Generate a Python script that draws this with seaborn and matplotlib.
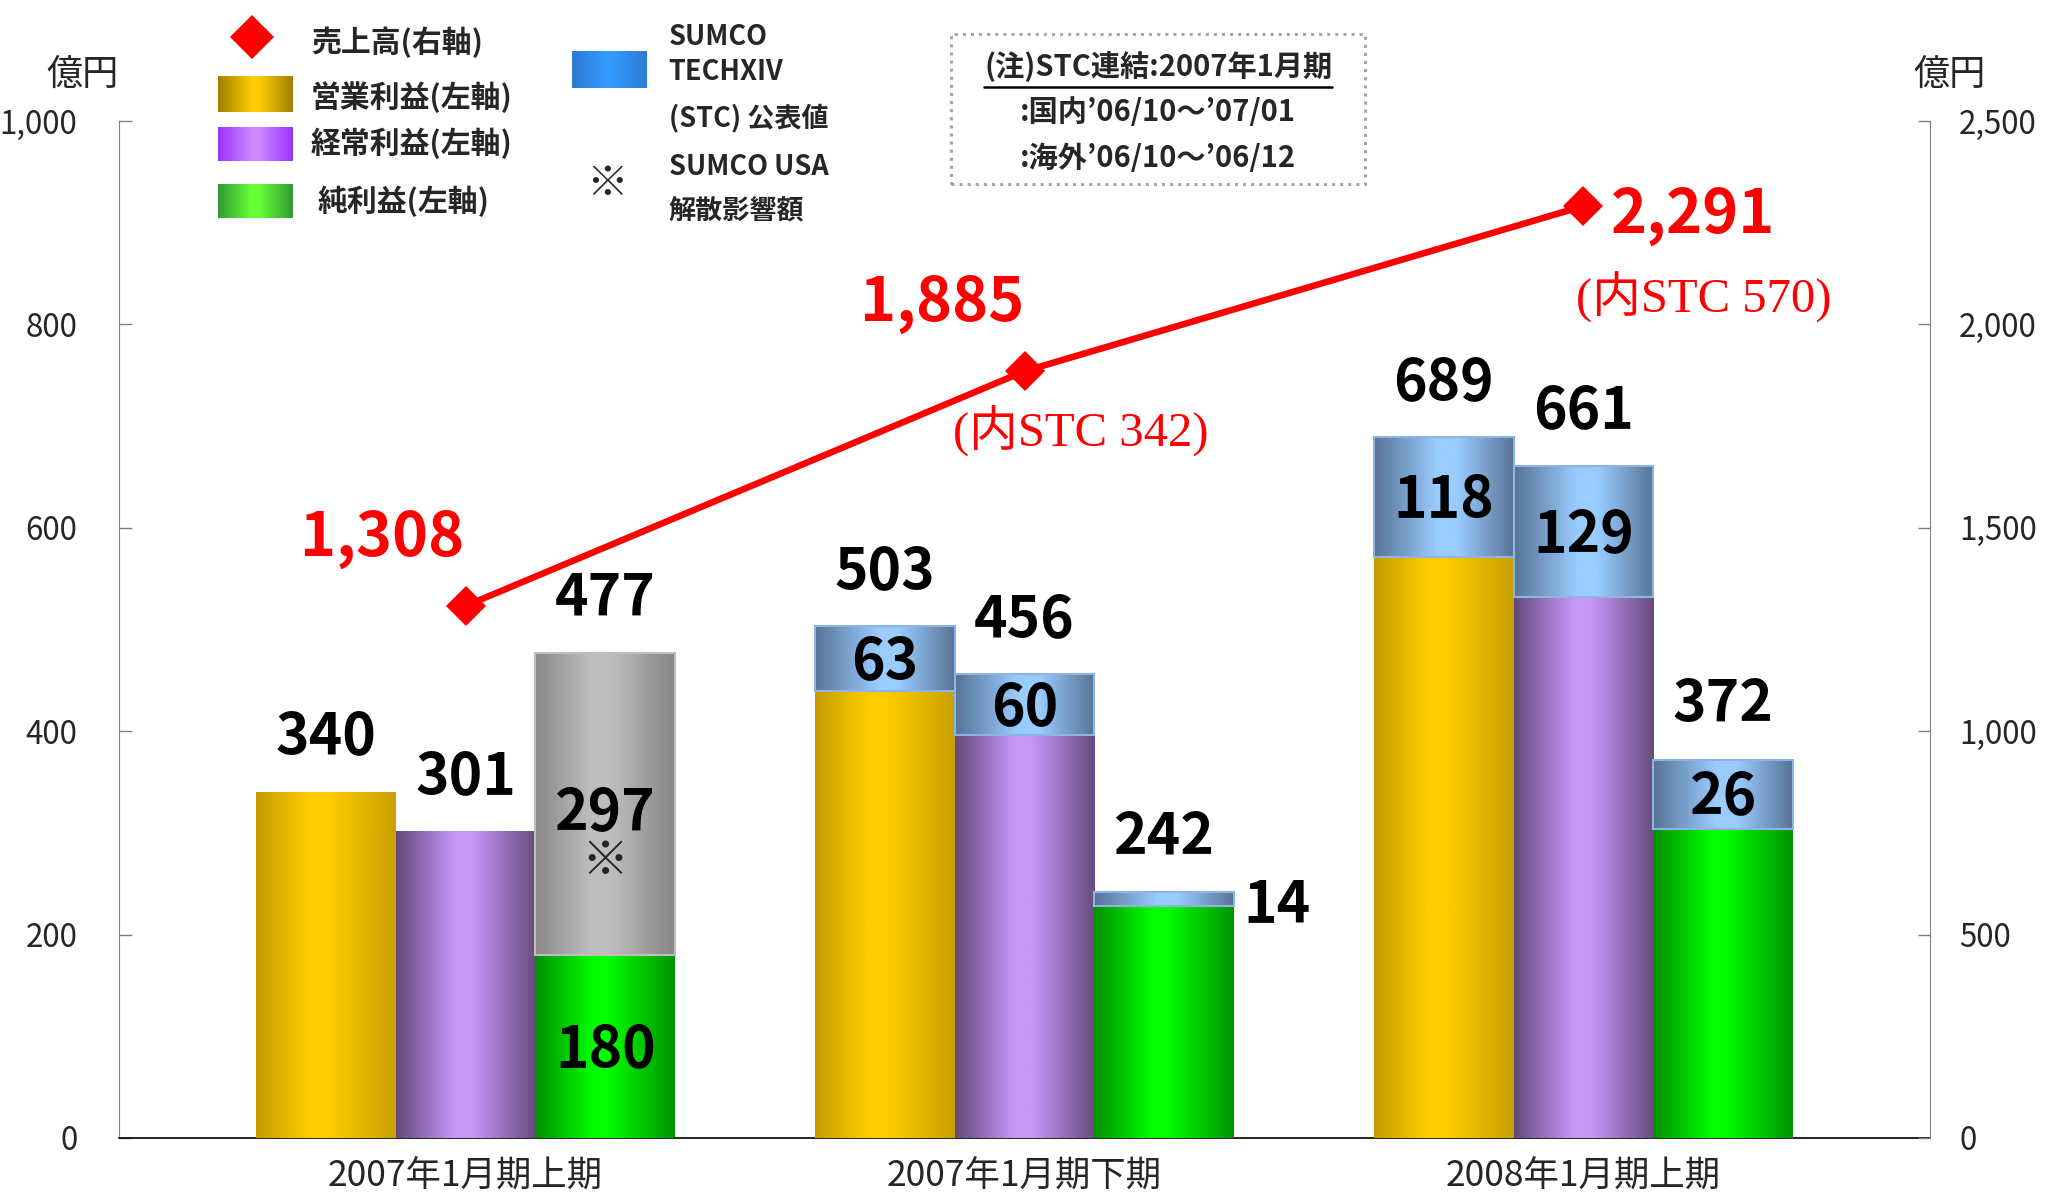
import numpy as np
import pandas as pd
import matplotlib
matplotlib.use("Agg")
import matplotlib.pyplot as plt
from matplotlib.colors import to_rgb
from matplotlib.patches import Rectangle
from matplotlib.ticker import FuncFormatter
import seaborn as sns

periods = ["2007年1月期上期", "2007年1月期下期", "2008年1月期上期"]
measures = ["営業利益", "経常利益", "純利益"]

# 左軸 (億円): 下段の値 + 上に積む値 (STC公表値 / SUMCO USA解散影響額)
op_base = [340, 440, 571]
op_top = [0, 63, 118]
ord_base = [301, 396, 532]
ord_top = [0, 60, 129]
# 元資料では2008年上期の純利益STC分(26)が実際より厚く描かれている
net_base = [180, 228, 304]
net_top = [297, 14, 68]
net_top_label = [297, 14, 26]

# 右軸 (億円): 売上高
sales = [1308, 1885, 2291]
sales_stc = [None, 342, 570]

left_ticks = [0, 200, 400, 600, 800, 1000]
right_ticks = [0, 500, 1000, 1500, 2000, 2500]

RED = "#FF0000"

# グラデーション (左端, 中央, 中央, 右端)
GRAD = {
    "営業利益": (["#C49C00", "#FFCC00", "#FFCC00", "#C8A000"], [0, 0.38, 0.52, 1]),
    "経常利益": (["#614A7B", "#C896F8", "#C896F8", "#644C7E"], [0, 0.42, 0.55, 1]),
    "純利益": (["#009000", "#00FF00", "#00FF00", "#009400"], [0, 0.42, 0.52, 1]),
    "stc": (["#587396", "#99CCFF", "#99CCFF", "#587396"], [0, 0.45, 0.6, 1]),
    "usa": (["#888888", "#BEBEBE", "#BEBEBE", "#858585"], [0, 0.4, 0.55, 1]),
}
LEGEND_GRAD = {
    "営業利益": (["#A08000", "#FFCC00", "#FFCC00", "#A08000"], [0, 0.45, 0.55, 1]),
    "経常利益": (["#9933FF", "#CC88FF", "#CC88FF", "#9933FF"], [0, 0.45, 0.55, 1]),
    "純利益": (["#339933", "#66FF33", "#66FF33", "#339933"], [0, 0.45, 0.55, 1]),
    "stc": (["#2F7BD0", "#3399FF", "#3399FF", "#2F7BD0"], [0, 0.45, 0.55, 1]),
}


def gradient(ax, x0, x1, y0, y1, spec, zorder):
    colors, stops = spec
    pos = np.linspace(0, 1, 256)
    rgb = np.array([to_rgb(c) for c in colors])
    img = np.stack([np.interp(pos, stops, rgb[:, k]) for k in range(3)], axis=-1)
    ax.imshow(img[np.newaxis, :, :], extent=[x0, x1, y0, y1], aspect="auto",
              interpolation="bilinear", zorder=zorder)


rows = []
for m, base, top in zip(measures, [op_base, ord_base, net_base], [op_top, ord_top, net_top]):
    for p, b, t in zip(periods, base, top):
        rows.append({"period": p, "measure": m, "base": b, "top": t, "total": b + t})
df = pd.DataFrame(rows)

sns.set_style("white")
plt.rcParams["font.family"] = ["Noto Sans CJK JP", "DejaVu Sans"]

fig = plt.figure(figsize=(20.48, 11.96), dpi=100)
ax = fig.add_axes([0.0581, 0.0485, 0.8843, 0.8503])

sns.barplot(data=df, x="period", y="total", hue="measure", order=periods,
            hue_order=measures, width=0.75, errorbar=None, legend=False,
            palette={m: "#99CCFF" for m in measures}, saturation=1, ax=ax)
n_top = len(ax.patches)
sns.barplot(data=df, x="period", y="base", hue="measure", order=periods,
            hue_order=measures, width=0.75, errorbar=None, legend=False,
            palette={"営業利益": "#FFCC00", "経常利益": "#C896F8", "純利益": "#00FF00"},
            saturation=1, ax=ax)

tops = [op_top, ord_top, net_top]
top_labels = [op_top, ord_top, net_top_label]
bases = [op_base, ord_base, net_base]
geom = {}
for i, patch in enumerate(ax.patches):
    x0, w, h = patch.get_x(), patch.get_width(), patch.get_height()
    cx = x0 + w / 2
    c = int(round(cx))
    hi = int(round((cx - c) / w)) + 1
    geom[(hi, c)] = (x0, w)
    if i < n_top:
        top = tops[hi][c]
        if top == 0:
            continue
        key = "usa" if (c == 0 and hi == 2) else "stc"
        gradient(ax, x0, x0 + w, 0, h, GRAD[key], zorder=2)
        ec = "#BFBFBF" if key == "usa" else "#8DB4E2"
        ax.add_patch(Rectangle((x0, h - top), w, top, fill=False, ec=ec, lw=1.5, zorder=3.5))
    else:
        gradient(ax, x0, x0 + w, 0, h, GRAD[measures[hi]], zorder=3)

# 数値ラベル
lab = dict(fontsize=41, fontweight="bold", color="black", ha="center", zorder=6)
half = 20
for hi in range(3):
    for c in range(3):
        x0, w = geom[(hi, c)]
        xc = x0 + w / 2
        b, t = bases[hi][c], tops[hi][c]
        tl = top_labels[hi][c]
        ax.text(xc, b + t + 37, f"{b + t}", va="baseline", **lab)
        if t == 0:
            continue
        if c == 0 and hi == 2:
            mid = b + t / 2
            ax.text(xc, mid - 6 - half, f"{tl}", va="baseline", **lab)
            ax.text(xc, mid - 57, "※", fontsize=34, ha="center", va="center", zorder=6)
            ax.text(xc, b / 2 - half, f"{b}", va="baseline", **lab)
        elif c == 1 and hi == 2:
            ax.text(x0 + w + 0.017, b + t - 10 - half, f"{tl}", va="baseline",
                    **{**lab, "ha": "left"})
        else:
            ax.text(xc, b + t / 2 - half, f"{tl}", va="baseline", **lab)

ax.set_xlim(-0.62, 2.62)
ax.set_ylim(0, 1000)
ax.set_yticks(left_ticks)
ax.yaxis.set_major_formatter(FuncFormatter(lambda v, _: f"{v:,.0f}"))
ax.set_xlabel("")
ax.set_ylabel("")
ax.tick_params(axis="y", direction="in", length=9, width=1, color="#808080",
               labelsize=22.5, pad=30, left=True)
ax.tick_params(axis="x", length=0, labelsize=25.5, pad=15)
for s in ["top", "right"]:
    ax.spines[s].set_visible(False)
ax.spines["left"].set_color("#808080")
ax.spines["bottom"].set_color("black")
ax.spines["bottom"].set_linewidth(1.2)

# 売上高 (右軸)
ax2 = ax.twinx()
sns.lineplot(x=np.arange(len(periods)), y=sales, ax=ax2, color=RED, lw=4.7,
             marker="D", markersize=20, markeredgewidth=0, zorder=5)
ax2.set_ylim(0, 2500)
ax2.set_yticks(right_ticks)
ax2.yaxis.set_major_formatter(FuncFormatter(lambda v, _: f"{v:,.0f}"))
ax2.set_xlim(-0.62, 2.62)
ax2.set_xlabel("")
ax2.set_ylabel("")
ax2.tick_params(axis="y", direction="in", length=9, width=1, color="#808080",
                labelsize=22.5, pad=21, right=True)
for s in ["top", "left", "bottom"]:
    ax2.spines[s].set_visible(False)
ax2.spines["right"].set_color("#808080")

sales_pos = [(-0.15, 1432), (0.853, 2010), (2.196, 2226)]
for v, (x, y) in zip(sales, sales_pos):
    ax2.text(x, y, f"{v:,}", color=RED, fontsize=44, fontweight="bold",
             ha="center", va="baseline", zorder=7)
stc_pos = [None, (1.10, 1700), (2.215, 2028)]
for v, pos in zip(sales_stc, stc_pos):
    if v is None:
        continue
    ax2.text(pos[0], pos[1], f"(内STC {v})", color=RED, fontsize=35,
             family=["Liberation Serif", "Noto Sans CJK JP"],
             ha="center", va="baseline", zorder=7)

# 凡例・注記
lax = fig.add_axes([0, 0, 1, 1], zorder=10)
lax.set_xlim(0, 1)
lax.set_ylim(0, 1)
lax.axis("off")

lax.plot([0.1230], [0.9694], marker="D", ms=22, color=RED, mew=0, ls="none")
leg_txt = dict(fontsize=21.5, fontweight="bold", va="center", ha="left")
lax.text(0.1518, 0.965, "売上高(右軸)", **leg_txt)
swatches = [("営業利益", 0.9063, 0.9356, "営業利益(左軸)", 0.1518, 0.919),
            ("経常利益", 0.8657, 0.894, "経常利益(左軸)", 0.1518, 0.880),
            ("純利益", 0.8177, 0.846, "純利益(左軸)", 0.155, 0.832)]
for key, y0, y1, label, tx, ty in swatches:
    gradient(lax, 0.1065, 0.1428, y0, y1, LEGEND_GRAD[key], zorder=2)
    lax.text(tx, ty, label, **leg_txt)

gradient(lax, 0.2793, 0.3157, 0.9268, 0.9574, LEGEND_GRAD["stc"], zorder=2)
small = dict(fontsize=19.5, fontweight="bold", va="center", ha="left")
lax.text(0.3265, 0.9694, "SUMCO", **small)
lax.text(0.3265, 0.940, "TECHXIV", **small)
lax.text(0.3265, 0.9017, "(STC) 公表値", **small)
lax.text(0.2965, 0.846, "※", fontsize=30, ha="center", va="center")
lax.text(0.3265, 0.860, "SUMCO USA", **small)
lax.text(0.3265, 0.823, "解散影響額", **small)

lax.add_patch(Rectangle((0.4643, 0.846), 0.2021, 0.1256, fill=False,
                        ec="#A6A6A6", lw=2.2, ls=":"))
note = dict(fontsize=21, fontweight="bold", ha="center", va="center")
title = lax.text(0.5656, 0.9443, "(注)STC連結:2007年1月期", **note)
lax.text(0.5656, 0.906, ":国内’06/10～’07/01", **note)
lax.text(0.5656, 0.8679, ":海外’06/10～’06/12", **note)

fig.canvas.draw()
bb = title.get_window_extent().transformed(lax.transData.inverted())
lax.plot([bb.x0, bb.x1], [bb.y0 - 0.004, bb.y0 - 0.004], color="black", lw=1.8)

lax.text(0.0402, 0.9378, "億円", fontsize=26, ha="center", va="center")
lax.text(0.952, 0.9378, "億円", fontsize=26, ha="center", va="center")

fig.savefig("out.png", dpi=100)
